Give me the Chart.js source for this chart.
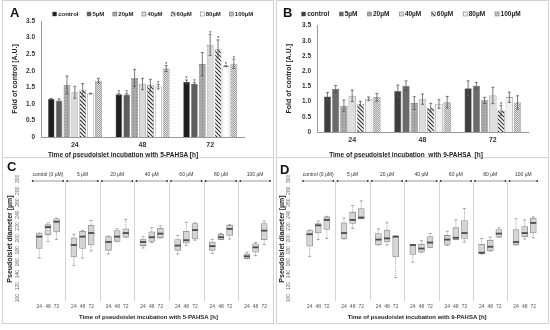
<!DOCTYPE html>
<html>
<head>
<meta charset="utf-8">
<script src="https://cdn.jsdelivr.net/npm/chart.js@4.4.1/dist/chart.umd.min.js"></script>
<style>
  body { margin: 0; background: #fff; font-family: "Liberation Sans", Arial, sans-serif; }
  #wrap { position: relative; width: 550px; height: 330px; overflow: hidden; }
  .panel { position: absolute; border: 1px solid #d2d2d2; box-sizing: border-box; }
  canvas { position: absolute; }
  .lbl { position: absolute; font-weight: bold; font-size: 13px; line-height: 13px; color: #111; }
  .xt { position: absolute; font-weight: bold; font-size: 6.5px; line-height: 7px; color: #222; white-space: pre; transform: translateX(-50%); }
</style>
</head>
<body>
<div id="wrap">
  <div class="panel" style="left:2px;top:0;width:272px;height:158px"></div>
  <div class="panel" style="left:276px;top:0;width:273px;height:158px"></div>
  <div class="panel" style="left:2px;top:157px;width:272px;height:167px"></div>
  <div class="panel" style="left:276px;top:157px;width:273px;height:167px"></div>
  <canvas id="chartA" width="274" height="158" style="left:0;top:0"></canvas>
  <canvas id="chartB" width="275" height="158" style="left:275px;top:0"></canvas>
  <canvas id="chartC" width="274" height="166" style="left:0;top:158px"></canvas>
  <canvas id="chartD" width="275" height="166" style="left:275px;top:158px"></canvas>
  <div class="lbl" style="left:10px;top:6px">A</div>
  <div class="lbl" style="left:283px;top:6px">B</div>
  <div class="lbl" style="left:7px;top:160px">C</div>
  <div class="lbl" style="left:280px;top:163px">D</div>
  <div class="xt" style="left:123px;top:151px">Time of pseudoislet incubation with 5-PAHSA [h]</div>
  <div class="xt" style="left:406px;top:151px">Time of pseudoislet incubation  with 9-PAHSA  [h]</div>
</div>
<script>
Chart.defaults.font.family = '"Liberation Sans", Arial, sans-serif';

const times = ['24', '48', '72'];
const concLabels = ['control', '5µM', '20µM', '40µM', '60µM', '80µM', '100µM'];
const facets = ['control (0 µM)', '5 µM', '20 µM', '40 µM', '60 µM', '80 µM', '100 µM'];
const yTicksBox = [100, 120, 140, 160, 180, 200, 220, 240, 260, 280, 300];

// A: 5-PAHSA, one row per concentration, columns 24 / 48 / 72 h
const aMean = [[1.15, 1.29, 1.67], [1.10, 1.28, 1.61], [1.57, 1.78, 2.20], [1.35, 1.60, 2.78],
               [1.42, 1.56, 2.65], [1.31, 1.52, 2.14], [1.70, 2.07, 2.21]];
const aErr = [[0.01, 0.03, 0.05], [0.05, 0.04, 0.04], [0.27, 0.26, 0.35], [0.18, 0.17, 0.32],
              [0.19, 0.18, 0.28], [0.01, 0.07, 0.02], [0.07, 0.09, 0.14]];
const aStar = [[0, 1, 1], [0, 1, 1], [0, 0, 0], [0, 0, 1], [0, 0, 1], [0, 1, 1], [0, 1, 1]];

// B: 9-PAHSA
const bMean = [[1.17, 1.35, 1.44], [1.41, 1.52, 1.52], [0.86, 0.95, 1.04], [1.19, 1.08, 1.20],
               [0.93, 0.80, 0.71], [1.09, 0.92, 1.14], [1.14, 0.98, 0.97]];
const bErr = [[0.13, 0.19, 0.24], [0.12, 0.16, 0.11], [0.19, 0.21, 0.10], [0.19, 0.17, 0.27],
              [0.08, 0.14, 0.17], [0.06, 0.14, 0.17], [0.13, 0.19, 0.22]];
const bStar = [[0, 0, 0], [0, 0, 0], [0, 0, 0], [0, 0, 0], [0, 0, 1], [0, 0, 0], [0, 0, 0]];

// C: 5-PAHSA diameters, 7 concentrations x (24, 48, 72 h)
const cMin = [167, 195, 198, 155, 167, 179, 174, 195, 202, 184, 193, 201, 174, 188, 197, 175, 198, 199, 166, 171, 190];
const cQ1  = [183, 206, 211, 169, 183, 189, 180, 195, 202, 188, 195, 201, 180, 192, 199, 180, 198, 205, 166, 177, 198];
const cMed = [203, 219, 228, 189, 203, 209, 194, 203, 209, 194, 202, 208, 188, 197, 214, 187, 202, 216, 170, 185, 213];
const cQ3  = [208, 223, 233, 201, 212, 222, 203, 213, 216, 199, 211, 217, 198, 212, 225, 194, 207, 222, 174, 191, 225];
const cMax = [209, 226, 234, 207, 213, 230, 204, 216, 232, 203, 218, 221, 205, 227, 226, 198, 208, 223, 177, 193, 229];

// D: 9-PAHSA diameters
const dMin = [170, 198, 200, 199, 217, 233, 189, 189, 134, 160, 177, 185, 188, 198, 194, 174, 179, 202, 189, 199, 201];
const dQ1  = [187, 209, 215, 199, 225, 233, 189, 194, 169, 173, 177, 185, 190, 198, 200, 174, 179, 202, 189, 203, 209];
const dMed = [207, 222, 231, 209, 231, 235, 198, 200, 203, 189, 183, 193, 198, 201, 209, 176, 186, 208, 194, 209, 226];
const dQ3  = [213, 225, 236, 226, 244, 250, 208, 214, 204, 189, 190, 203, 205, 218, 230, 190, 197, 215, 215, 220, 234];
const dMax = [214, 229, 237, 234, 255, 263, 216, 227, 204, 189, 196, 208, 212, 231, 250, 200, 202, 218, 233, 231, 236];

// fill patterns
function pattern(size, draw) {
  const c = document.createElement('canvas');
  c.width = c.height = size;
  const g = c.getContext('2d');
  draw(g, size);
  return g.createPattern(c, 'repeat');
}
const dots = pattern(3, (g) => { g.fillStyle = '#a9a9a9'; g.fillRect(0, 0, 3, 3); g.fillStyle = '#858585'; g.fillRect(1, 1, 1, 1); });
const hatch = pattern(4, (g) => {
  g.fillStyle = '#fff'; g.fillRect(0, 0, 4, 4);
  g.strokeStyle = '#2a2a2a'; g.lineWidth = 1.1;
  g.beginPath(); g.moveTo(-1, -1); g.lineTo(5, 5); g.moveTo(-1, 3); g.lineTo(1, 5); g.moveTo(3, -1); g.lineTo(5, 1); g.stroke();
});
const checker = pattern(2, (g) => {
  g.fillStyle = '#e2e2e2'; g.fillRect(0, 0, 2, 2);
  g.fillStyle = '#9e9e9e'; g.fillRect(0, 0, 1, 1); g.fillRect(1, 1, 1, 1);
});
const fillsA = ['#1f1f1f', '#5e5e5e', dots, '#dadada', hatch, '#ffffff', checker];
const fillsB = ['#3e3e3e', '#6a6a6a', dots, '#dedede', hatch, '#f2f2f2', checker];

const barExtras = {
  id: 'barExtras',
  afterDatasetsDraw(chart, args, o) {
    const ctx = chart.ctx, y = chart.scales.y;
    ctx.save();
    ctx.strokeStyle = '#555';
    ctx.lineWidth = 0.8;
    ctx.fillStyle = '#333';
    ctx.font = '6px "Liberation Sans", Arial';
    ctx.textAlign = 'center';
    chart.data.datasets.forEach((ds, di) => {
      chart.getDatasetMeta(di).data.forEach((bar, i) => {
        const top = y.getPixelForValue(ds.data[i] + ds.err[i]);
        const bot = y.getPixelForValue(ds.data[i] - ds.err[i]);
        ctx.beginPath();
        ctx.moveTo(bar.x, top); ctx.lineTo(bar.x, bot);
        ctx.moveTo(bar.x - 1.5, top); ctx.lineTo(bar.x + 1.5, top);
        ctx.moveTo(bar.x - 1.5, bot); ctx.lineTo(bar.x + 1.5, bot);
        ctx.stroke();
        if (ds.star[i]) ctx.fillText('*', bar.x, top + 0.5);
      });
    });
    // legend
    ctx.font = 'bold ' + o.lf + 'px "Liberation Sans", Arial';
    ctx.textAlign = 'left';
    ctx.textBaseline = 'middle';
    let x = o.lx;
    chart.data.datasets.forEach((ds) => {
      ctx.fillStyle = ds.backgroundColor;
      ctx.fillRect(x, o.ly - 2, 4, 4);
      ctx.strokeStyle = '#666'; ctx.lineWidth = 0.5;
      ctx.strokeRect(x, o.ly - 2, 4, 4);
      ctx.fillStyle = '#222';
      ctx.fillText(ds.label, x + 5.5, o.ly);
      x += 5.5 + ctx.measureText(ds.label).width + o.lg;
    });
    ctx.restore();
  }
};

function barChart(id, means, errs, stars, fills, o) {
  const datasets = concLabels.map((c, i) => ({
    label: c, data: means[i], err: errs[i], star: stars[i],
    backgroundColor: fills[i], borderColor: '#6a6a6a', borderWidth: 0.6,
    categoryPercentage: o.cat, barPercentage: o.bar
  }));
  return new Chart(document.getElementById(id), {
    type: 'bar',
    data: { labels: times, datasets },
    options: {
      responsive: false, animation: false,
      layout: { padding: { top: o.top, right: o.right, left: 0, bottom: 0 } },
      plugins: { legend: { display: false }, tooltip: { enabled: false }, barExtras: o },
      scales: {
        x: {
          grid: { display: false, drawTicks: false }, border: { color: '#999' },
          ticks: { padding: 4, font: { size: 7, weight: 'bold' }, color: '#333' },
          afterFit: (s) => { s.height = o.xh; }
        },
        y: {
          min: 0, max: 3.5,
          grid: { display: false, drawTicks: false }, border: { color: '#999' },
          ticks: { stepSize: 0.5, padding: 6, font: { size: 6.5, weight: 'bold' }, color: '#333' },
          title: { display: true, text: 'Fold of control [A.U.]', font: { size: 7, weight: 'bold' }, color: '#222', padding: { top: o.tp, bottom: 0 } },
          afterFit: (s) => { s.width = o.yw; }
        }
      }
    },
    plugins: [barExtras]
  });
}

const boxExtras = {
  id: 'boxExtras',
  beforeDatasetsDraw(chart) {
    const ctx = chart.ctx, a = chart.chartArea, x = chart.scales.x;
    ctx.save();
    ctx.strokeStyle = '#d4d4d4'; ctx.lineWidth = 1;
    for (let f = 1; f < facets.length; f++) {
      const px = Math.round(x.getPixelForValue(4 * f)) + 0.5;
      ctx.beginPath(); ctx.moveTo(px, a.top + 4); ctx.lineTo(px, a.bottom); ctx.stroke();
    }
    ctx.restore();
  },
  afterDatasetsDraw(chart, args, o) {
    const ctx = chart.ctx, a = chart.chartArea, x = chart.scales.x, y = chart.scales.y;
    const ds = chart.data.datasets[0];
    ctx.save();
    chart.getDatasetMeta(0).data.forEach((el, i) => {
      const yMin = y.getPixelForValue(ds.mins[i]), yMax = y.getPixelForValue(ds.maxs[i]);
      const yQ1 = y.getPixelForValue(ds.data[i].y[0]), yQ3 = y.getPixelForValue(ds.data[i].y[1]);
      const yMed = y.getPixelForValue(ds.meds[i]);
      ctx.strokeStyle = '#8a8a8a'; ctx.lineWidth = 0.8;
      ctx.setLineDash([1, 1]);
      ctx.beginPath();
      ctx.moveTo(el.x, yQ3); ctx.lineTo(el.x, yMax);
      ctx.moveTo(el.x, yQ1); ctx.lineTo(el.x, yMin);
      ctx.stroke();
      ctx.setLineDash([]);
      ctx.beginPath();
      ctx.moveTo(el.x - 1.5, yMax); ctx.lineTo(el.x + 1.5, yMax);
      ctx.moveTo(el.x - 1.5, yMin); ctx.lineTo(el.x + 1.5, yMin);
      ctx.stroke();
      ctx.strokeStyle = '#4a4a4a'; ctx.lineWidth = 1.8;
      ctx.beginPath(); ctx.moveTo(el.x - 3, yMed); ctx.lineTo(el.x + 3, yMed); ctx.stroke();
    });
    // facet header
    ctx.font = '5px "Liberation Sans", Arial';
    ctx.textAlign = 'center'; ctx.textBaseline = 'middle';
    ctx.strokeStyle = '#555'; ctx.lineWidth = 0.6; ctx.fillStyle = '#333';
    facets.forEach((name, f) => {
      const l = Math.max(a.left, x.getPixelForValue(4 * f)) + 1.5;
      const r = Math.min(a.right, x.getPixelForValue(4 * f + 4)) - 1.5;
      ctx.beginPath(); ctx.moveTo(l, a.top + 4); ctx.lineTo(r, a.top + 4); ctx.stroke();
      ctx.beginPath(); ctx.arc(l + 0.5, a.top + 4, 0.9, 0, 2 * Math.PI); ctx.arc(r - 0.5, a.top + 4, 0.9, 0, 2 * Math.PI); ctx.fill();
      ctx.fillText(name, (l + r) / 2, a.top - 2.5);
    });
    // rotated y tick labels and y title
    ctx.fillStyle = '#666';
    yTicksBox.forEach((v) => {
      ctx.save();
      ctx.translate(a.left - o.tickOff, y.getPixelForValue(v));
      ctx.rotate(-Math.PI / 2);
      ctx.fillText(String(v), 0, 0);
      ctx.restore();
    });
    ctx.save();
    ctx.translate(a.left - o.titleOff, (a.top + a.bottom) / 2);
    ctx.rotate(-Math.PI / 2);
    ctx.font = 'bold 7px "Liberation Sans", Arial';
    ctx.fillStyle = '#222';
    ctx.fillText('Pseudoislet diameter [µm]', 0, 0);
    ctx.restore();
    ctx.restore();
  }
};

function boxChart(id, mins, q1s, meds, q3s, maxs, o) {
  const pts = q1s.map((q, i) => ({ x: 4 * Math.floor(i / 3) + (i % 3) + 1, y: [q, q3s[i]] }));
  return new Chart(document.getElementById(id), {
    type: 'bar',
    data: {
      datasets: [{
        data: pts, mins, meds, maxs,
        backgroundColor: '#d5d5d5', borderColor: '#8c8c8c', borderWidth: 0.8,
        borderSkipped: false, barThickness: 6
      }]
    },
    options: {
      responsive: false, animation: false,
      layout: { padding: { top: 19, right: o.right, bottom: 0, left: 0 } },
      plugins: { legend: { display: false }, tooltip: { enabled: false }, boxExtras: o },
      scales: {
        x: {
          type: 'linear', min: o.xmin, max: o.xmax, offset: false,
          grid: { display: false, drawTicks: false, offset: false }, border: { display: false },
          afterBuildTicks: (s) => { s.ticks = pts.map((p) => ({ value: p.x })); },
          ticks: { autoSkip: false, maxRotation: 0, padding: 3, font: { size: 5 }, color: '#555',
                   callback: (v) => times[(v - 1) % 4] },
          title: { display: true, text: o.xtitle, font: { size: 6, weight: 'bold' }, color: '#222', padding: { top: 0, bottom: 3 } },
          afterFit: (s) => { s.height = 23; }
        },
        y: {
          min: 95, max: 303,
          grid: { display: false, drawTicks: false }, border: { display: false },
          ticks: { display: false },
          afterFit: (s) => { s.width = o.yw; }
        }
      }
    },
    plugins: [boxExtras]
  });
}

barChart('chartA', aMean, aErr, aStar, fillsA,
  { cat: 0.815, bar: 0.85, top: 21, right: 30, xh: 21, yw: 41, tp: 11, lx: 52.7, ly: 14, lf: 6, lg: 8.5 });
barChart('chartB', bMean, bErr, bStar, fillsB,
  { cat: 0.82, bar: 0.88, top: 25.5, right: 22, xh: 26, yw: 42, tp: 10, lx: 26.7, ly: 14, lf: 6.5, lg: 10 });
boxChart('chartC', cMin, cQ1, cMed, cQ3, cMax,
  { xmin: -0.65, xmax: 27.9, right: 2, yw: 25, tickOff: 7, titleOff: 15, xtitle: 'Time of pseudoislet incubation with 5-PAHSA [h]' });
boxChart('chartD', dMin, dQ1, dMed, dQ3, dMax,
  { xmin: -0.7, xmax: 27.7, right: 10.7, yw: 20, tickOff: 6, titleOff: 13, xtitle: 'Time of pseudoislet incubation with 9-PAHSA [h]' });
</script>
</body>
</html>
